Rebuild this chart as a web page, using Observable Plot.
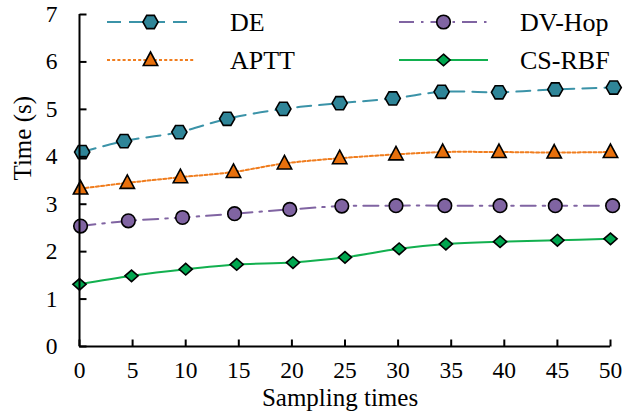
<!DOCTYPE html>
<html>
<head>
<meta charset="utf-8">
<script src="https://cdn.jsdelivr.net/npm/d3@7"></script>
<script src="https://cdn.jsdelivr.net/npm/@observablehq/plot@0.6"></script>
<style>
  html, body { margin: 0; padding: 0; background: #fff; }
  svg { display: block; }
</style>
</head>
<body>
<div id="chart"></div>
<script>
// ---- data ----
const seriesNames = ["DE", "APTT", "DV-Hop", "CS-RBF"];
const deX    = [0.25, 4.2, 9.4, 13.9, 19.2, 24.5, 29.5, 34.1, 39.5, 44.8, 50.3];
const deY    = [4.10, 4.33, 4.52, 4.80, 5.01, 5.13, 5.23, 5.37, 5.36, 5.42, 5.46];
const apttX  = [0.1, 4.5, 9.5, 14.5, 19.3, 24.5, 29.8, 34.2, 39.5, 44.7, 50];
const apttY  = [3.33, 3.45, 3.57, 3.68, 3.86, 3.97, 4.05, 4.10, 4.10, 4.09, 4.10];
const dvX    = [0.1, 4.6, 9.7, 14.6, 19.8, 24.7, 29.8, 34.4, 39.6, 44.8, 50.2];
const dvY    = [2.54, 2.65, 2.72, 2.80, 2.89, 2.96, 2.97, 2.97, 2.97, 2.97, 2.97];
const csX    = [0, 4.9, 10, 14.8, 20.1, 25, 30.1, 34.5, 39.6, 45, 50];
const csY    = [1.31, 1.49, 1.63, 1.73, 1.77, 1.88, 2.06, 2.16, 2.21, 2.24, 2.27];
const xTicks = [0, 5, 10, 15, 20, 25, 30, 35, 40, 45, 50];
const yTicks = [0, 1, 2, 3, 4, 5, 6, 7];
const xLabel = "Sampling times";
const yLabel = "Time (s)";

// ---- styles ----
const lineColors = ["#3b93a8", "#f07d1e", "#8064a2", "#12b04f"];
const fillColors = ["#2f8598", "#e8700c", "#8064a2", "#00a64f"];
const dashes = ["14,8", "3,2.2", "15,7,2.5,7", null];

const hexagon = { draw(c) { const R = 7.6; for (let k = 0; k < 6; k++) { const a = k * Math.PI / 3; const px = R * Math.cos(a), py = R * Math.sin(a); k ? c.lineTo(px, py) : c.moveTo(px, py); } c.closePath(); } };
const triangle = { draw(c) { c.moveTo(0, -8); c.lineTo(7.2, 5.5); c.lineTo(-7.2, 5.5); c.closePath(); } };
const circle = { draw(c) { c.moveTo(6.8, 0); c.arc(0, 0, 6.8, 0, 2 * Math.PI); } };
const diamond = { draw(c) { c.moveTo(0, -5.8); c.lineTo(6.6, 0); c.lineTo(0, 5.8); c.lineTo(-6.6, 0); c.closePath(); } };
const symbols = [hexagon, triangle, circle, diamond];
const tickRight = { draw(c) { c.moveTo(0, 0); c.lineTo(7, 0); } };
const tickUp = { draw(c) { c.moveTo(0, 0); c.lineTo(0, -7); } };

const xs = [deX, apttX, dvX, csX];
const ys = [deY, apttY, dvY, csY];
const tables = seriesNames.map((name, i) => xs[i].map((x, j) => ({ name, x, y: ys[i][j] })));

const marks = [];
tables.forEach((t, i) => {
  marks.push(Plot.line(t, { x: "x", y: "y", stroke: lineColors[i], strokeWidth: 2, strokeDasharray: dashes[i], curve: "catmull-rom" }));
});
tables.forEach((t, i) => {
  marks.push(Plot.dot(t, { x: "x", y: "y", symbol: symbols[i], fill: fillColors[i], stroke: "black", strokeWidth: 1.6 }));
});

const plot = Plot.plot({
  width: 625,
  height: 412,
  marginLeft: 79,
  marginRight: 15,
  marginTop: 14,
  marginBottom: 66,
  style: { fontFamily: "'Liberation Serif', 'Times New Roman', serif", background: "#fff", color: "#000" },
  x: { domain: [0, 50], label: null },
  y: { domain: [0, 7], label: null },
  marks: [
    ...marks,
    Plot.ruleX([0], { stroke: "black", strokeWidth: 2 }),
    Plot.ruleY([0], { stroke: "black", strokeWidth: 2 }),
    Plot.dot(yTicks, { y: d => d, frameAnchor: "left", symbol: tickRight, fill: "none", stroke: "black", strokeWidth: 2 }),
    Plot.dot(xTicks, { x: d => d, frameAnchor: "bottom", symbol: tickUp, fill: "none", stroke: "black", strokeWidth: 2 }),
    Plot.axisX(xTicks, { tickSize: 0, tickPadding: 15, fontSize: 23.5, label: null }),
    Plot.axisY(yTicks, { tickSize: 0, tickPadding: 22, fontSize: 23.5, label: null }),
    Plot.text([xLabel], { frameAnchor: "bottom", dx: -5, dy: 59, fontSize: 25, fill: "black", stroke: "none" }),
    Plot.text([yLabel], { frameAnchor: "left", dx: -57, rotate: -90, fontSize: 25, fill: "black", stroke: "none" })
  ]
});

// ---- legend (inside the plot, two columns) ----
const svg = d3.select(plot);
const legendCols = [{ x0: 107, x1: 194, tx: 230 }, { x0: 399, x1: 488, tx: 520 }];
const legendRows = [22, 60];
const lg = svg.append("g").attr("class", "legend");
seriesNames.forEach((name, i) => {
  const col = legendCols[Math.floor(i / 2)];
  const y = legendRows[i % 2];
  const g = lg.append("g");
  g.append("line").attr("x1", col.x0).attr("x2", col.x1).attr("y1", y).attr("y2", y)
    .attr("stroke", lineColors[i]).attr("stroke-width", 2)
    .attr("stroke-dasharray", dashes[i]);
  const p = d3.path(); symbols[i].draw(p);
  g.append("path").attr("d", p.toString())
    .attr("transform", `translate(${(col.x0 + col.x1) / 2},${y})`)
    .attr("fill", fillColors[i]).attr("stroke", "black").attr("stroke-width", 1.6);
  g.append("text").attr("x", col.tx).attr("y", y).attr("dy", "0.34em")
    .attr("text-anchor", "start")
    .attr("font-size", 26).attr("fill", "#000").text(name);
});

document.getElementById("chart").appendChild(plot);
</script>
</body>
</html>
